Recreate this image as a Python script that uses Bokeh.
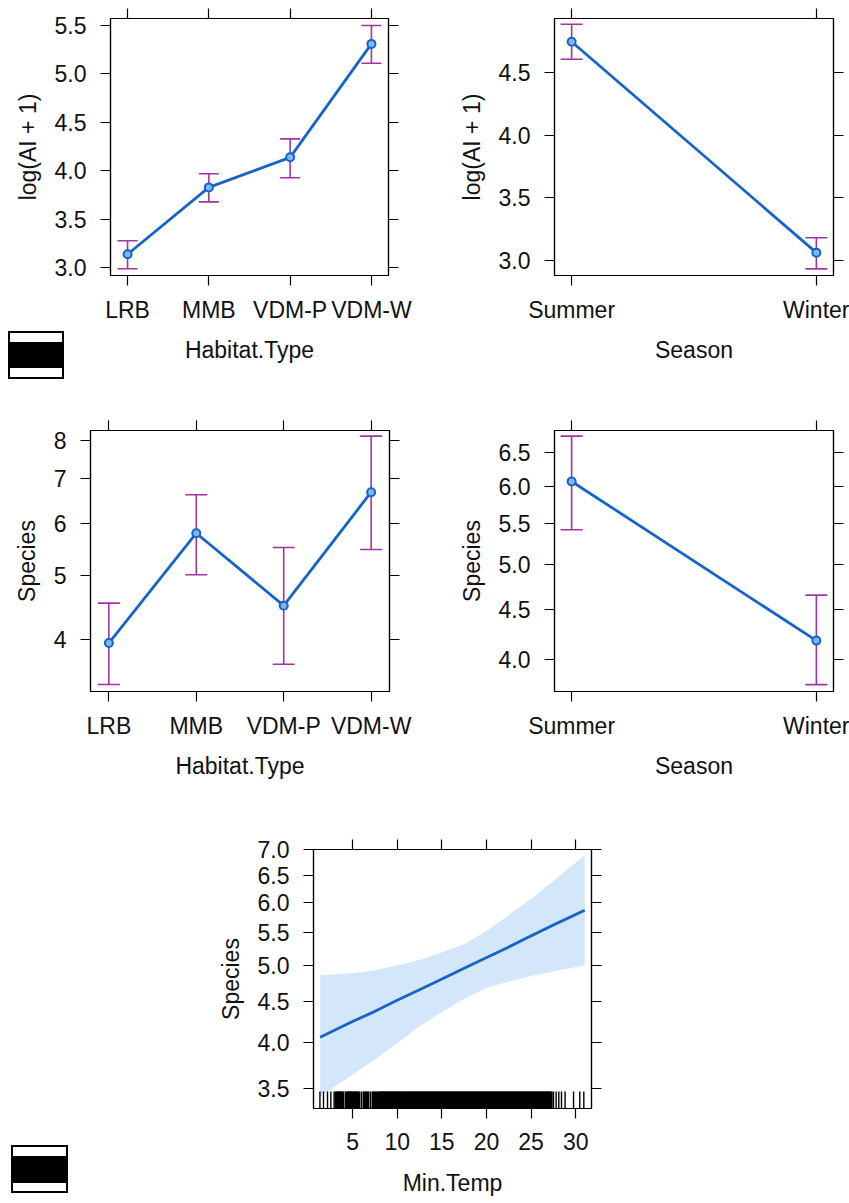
import math
from bokeh.plotting import figure
from bokeh.models import (Range1d, FixedTicker, LinearAxis, LogAxis, PrintfTickFormatter,
                          Whisker, TeeHead, ColumnDataSource, InlineStyleSheet)
from bokeh.layouts import column, row
from bokeh.embed import file_html
from bokeh.resources import INLINE

# ---------------- data ----------------
habitat = ["LRB", "MMB", "VDM-P", "VDM-W"]
season = ["Summer", "Winter"]

ai_hab_fit = [3.14, 3.83, 4.14, 5.31]
ai_hab_lower = [2.99, 3.68, 3.93, 5.11]
ai_hab_upper = [3.28, 3.97, 4.33, 5.50]

ai_sea_fit = [4.75, 3.06]
ai_sea_lower = [4.61, 2.93]
ai_sea_upper = [4.89, 3.18]

sp_hab_fit = [3.95, 5.79, 4.50, 6.68]
sp_hab_lower = [3.42, 5.01, 3.67, 5.47]
sp_hab_upper = [4.54, 6.62, 5.51, 8.12]

sp_sea_fit = [6.07, 4.18]
sp_sea_lower = [5.42, 3.77]
sp_sea_upper = [6.75, 4.65]

temp_x = [1.37, 5, 7.4, 10, 12.5, 14.9, 17.5, 19.9, 22.4, 25, 28, 31]
temp_fit = [4.06, 4.25, 4.37, 4.52, 4.66, 4.80, 4.96, 5.11, 5.27, 5.45, 5.66, 5.87]
temp_lower = [3.42, 3.64, 3.80, 3.99, 4.19, 4.36, 4.54, 4.68, 4.77, 4.85, 4.93, 5.00]
temp_upper = [4.86, 4.89, 4.93, 5.00, 5.08, 5.19, 5.32, 5.52, 5.78, 6.07, 6.46, 6.89]

temp_rug = [1.35, 1.75, 2.2, 2.57, 2.94,
            3.2, 3.4, 3.6, 3.8, 4.0, 4.2, 4.4, 4.6, 4.73, 5.0, 5.18,
            5.4, 5.6, 5.8, 6.0, 6.2, 6.4, 6.6, 6.8, 7.0, 7.2, 7.4, 7.6, 7.8, 8.0,
            8.2, 8.4, 8.6, 8.8, 9.0, 9.2, 9.4, 9.6, 9.8, 10.0, 10.2, 10.4, 10.6, 10.8, 10.95,
            11.25, 11.4, 11.6, 11.8, 12.0, 12.2, 12.4, 12.6, 12.8, 13.0, 13.2, 13.4, 13.6, 13.8,
            14.0, 14.2, 14.4, 14.6, 14.8, 15.0, 15.2, 15.4, 15.6, 15.8, 16.0, 16.2, 16.4, 16.6,
            16.8, 17.0, 17.2, 17.4, 17.6, 17.8, 18.0, 18.2, 18.4, 18.6, 18.8, 19.0, 19.2, 19.4,
            19.6, 19.8, 20.0, 20.2, 20.4, 20.6, 20.8, 21.0, 21.2, 21.4, 21.6, 21.8, 22.0, 22.2,
            22.4, 22.6, 22.8, 23.0, 23.2, 23.4, 23.6, 23.8, 24.0, 24.2, 24.4, 24.6, 24.8, 25.0,
            25.2, 25.4, 25.6, 25.8, 26.0, 26.2, 26.4, 26.6, 26.8, 27.0,
            27.2, 27.5, 27.8, 28.1, 28.4, 28.8, 29.75, 30.45, 30.9]

ai_ticks = [3.0, 3.5, 4.0, 4.5, 5.0, 5.5]
ai_sea_ticks = [3.0, 3.5, 4.0, 4.5]
sp_hab_ticks = [4, 5, 6, 7, 8]
sp_sea_ticks = [4.0, 4.5, 5.0, 5.5, 6.0, 6.5]
temp_yticks = [3.5, 4.0, 4.5, 5.0, 5.5, 6.0, 6.5, 7.0]
temp_xticks = [5, 10, 15, 20, 25, 30]

# ---------------- style ----------------
FONT = "Liberation Sans"
FS = "23px"
BLUE = "#1565C8"
MAG = "#A0359F"
BAND = "#D4E6FA"
TXT = "#111111"


def style_axis(ax, ticks, labels=True, fmt=None, overrides=None, label=None,
               standoff=11, label_standoff=12):
    ax.ticker = FixedTicker(ticks=ticks)
    ax.major_tick_out = 10
    ax.major_tick_in = 0
    ax.minor_tick_out = 0
    ax.minor_tick_in = 0
    ax.major_tick_line_color = "black"
    ax.major_tick_line_width = 1.2
    ax.axis_line_color = "black"
    ax.axis_line_width = 1.2
    if labels:
        ax.major_label_text_font = FONT
        ax.major_label_text_font_size = FS
        ax.major_label_text_color = TXT
        ax.major_label_standoff = standoff
        if fmt is not None:
            ax.formatter = PrintfTickFormatter(format=fmt)
        if overrides is not None:
            ax.major_label_overrides = overrides
    else:
        ax.major_label_text_font_size = "1px"
        ax.major_label_text_color = None
        ax.major_label_standoff = 0
    if label is not None:
        ax.axis_label = label
        ax.axis_label_text_font = FONT
        ax.axis_label_text_font_size = FS
        ax.axis_label_text_font_style = "normal"
        ax.axis_label_text_color = TXT
        ax.axis_label_standoff = label_standoff


def make_fig(w, h, bl, br, bt, bb, xr, yr, ylog, xticks, xover, xfmt, yticks, yfmt,
             xlabel, ylabel, xs_off=11, xl_off=11):
    p = figure(width=w, height=h, x_range=Range1d(*xr), y_range=Range1d(*yr),
               y_axis_type="log" if ylog else "linear",
               output_backend="svg", toolbar_location=None,
               min_border_left=bl, min_border_right=br,
               min_border_top=bt, min_border_bottom=bb)
    p.grid.visible = False
    p.outline_line_color = "black"
    p.outline_line_width = 1.2
    p.background_fill_color = "white"
    p.border_fill_color = "white"
    bottom_ax = p.below[0]
    left_ax = p.left[0]
    top = LinearAxis()
    right = LogAxis() if ylog else LinearAxis()
    p.add_layout(top, "above")
    p.add_layout(right, "right")
    style_axis(bottom_ax, xticks, True, xfmt, xover, xlabel, xs_off, xl_off)
    style_axis(top, xticks, False)
    style_axis(left_ax, yticks, True, yfmt, None, ylabel, 14, 11)
    style_axis(right, yticks, False)
    return p


def effect_panel(p, cats, fit, lower, upper, head):
    xs = list(range(1, len(cats) + 1))
    src = ColumnDataSource(dict(x=xs, fit=fit, lower=lower, upper=upper))
    w = Whisker(source=src, base="x", upper="upper", lower="lower", dimension="height",
                line_color=MAG, line_width=1.6,
                upper_head=TeeHead(size=head, line_color=MAG, line_width=1.6),
                lower_head=TeeHead(size=head, line_color=MAG, line_width=1.6))
    p.add_layout(w)
    p.line("x", "fit", source=src, line_color=BLUE, line_width=2.8)
    p.scatter("x", "fit", source=src, marker="circle", size=8, line_color=BLUE,
              line_width=2, fill_color="#7fb6f0")


def ticks_for(cats):
    return list(range(1, len(cats) + 1)), {i + 1: c for i, c in enumerate(cats)}


def marker_box(p, left, top, width, height, band_top, band_bottom):
    css = (":host::after { content: ''; position: absolute; "
           f"left: {left}px; top: {top}px; width: {width}px; height: {height}px; "
           "box-sizing: border-box; border: 2px solid black; pointer-events: none; "
           f"background: linear-gradient(to bottom, white 0px, white {band_top}px, "
           f"black {band_top}px, black {band_bottom}px, white {band_bottom}px, white 100%); }}")
    p.stylesheets = [InlineStyleSheet(css=css)]


def pad(n):
    return (1 - 0.07 * (n - 1), n + 0.07 * (n - 1))


hx, hover = ticks_for(habitat)
sx, sover = ticks_for(season)

# --- top-left
p1 = make_fig(430, 400, 110, 42, 17, 125, pad(4), (2.921, 5.572), False,
              hx, hover, None, ai_ticks, "%.1f", "Habitat.Type", "log(AI + 1)")
effect_panel(p1, habitat, ai_hab_fit, ai_hab_lower, ai_hab_upper, 20)
marker_box(p1, 8, 331, 56, 48, 9, 35)

# --- top-right
p2 = make_fig(419, 400, 124, 16, 18, 125, pad(2), (2.877, 4.936), False,
              sx, sover, None, ai_sea_ticks, "%.1f", "Season", "log(AI + 1)")
effect_panel(p2, season, ai_sea_fit, ai_sea_lower, ai_sea_upper, 22)

# --- middle-left
p3 = make_fig(430, 400, 90, 41, 30, 109, pad(4), (3.337, 8.28), True,
              hx, hover, None, sp_hab_ticks, "%d", "Habitat.Type", "Species")
effect_panel(p3, habitat, sp_hab_fit, sp_hab_lower, sp_hab_upper, 22)

# --- middle-right
p4 = make_fig(419, 400, 124, 16, 30, 109, pad(2), (3.71, 6.84), True,
              sx, sover, None, sp_sea_ticks, "%.1f", "Season", "Species")
effect_panel(p4, season, sp_sea_fit, sp_sea_lower, sp_sea_upper, 22)

# --- bottom
y0, y1 = 3.30, 7.005
p5 = make_fig(849, 403, 313, 258, 49, 95, (0.63, 31.76), (y0, y1), True,
              temp_xticks, None, "%d", temp_yticks, "%.1f", "Min.Temp", "Species",
              xs_off=14, xl_off=17)
p5.varea(x=temp_x, y1=temp_lower, y2=temp_upper, fill_color=BAND, fill_alpha=1.0)
p5.line(x=temp_x, y=temp_fit, line_color=BLUE, line_width=2.8)
rug_top = y0 * (y1 / y0) ** (17 / 259)
dense, sparse = [], []
for i, v in enumerate(temp_rug):
    prev_gap = v - temp_rug[i - 1] if i > 0 else 9
    next_gap = temp_rug[i + 1] - v if i < len(temp_rug) - 1 else 9
    (dense if min(prev_gap, next_gap) <= 0.2 else sparse).append(v)
p5.segment(x0=dense, y0=[y0] * len(dense), x1=dense, y1=[rug_top] * len(dense),
           line_color="black", line_width=3.8, line_cap="butt")
p5.segment(x0=sparse, y0=[y0] * len(sparse), x1=sparse, y1=[rug_top] * len(sparse),
           line_color="black", line_width=1.4)
marker_box(p5, 11, 345, 57, 48, 9, 36)

layout = column(row(p1, p2), row(p3, p4), p5)
open("out.html", "w").write(file_html(layout, INLINE))
